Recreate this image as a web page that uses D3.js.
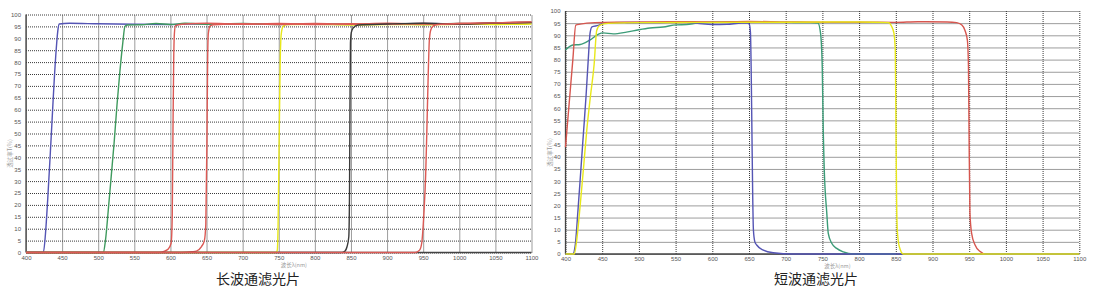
<!DOCTYPE html>
<html>
<head>
<meta charset="utf-8">
<script src="https://cdn.jsdelivr.net/npm/d3@7"></script>
<style>
  body { margin: 0; background: #fff; }
  svg { display: block; }
  .tick text { font-family: "Liberation Sans", Arial, sans-serif; fill: #555; }
  .domain { display: none; }
</style>
</head>
<body>
<svg id="chart" width="1099" height="288"></svg>
<script>
// ---- shared axis values ----
const xTicks = d3.range(400, 1101, 50);
const yTicks = d3.range(0, 101, 5);

// ---- long-pass filters (left panel): [wavelength nm, transmission %] ----
const lpBlue = [[400,0],[424,0],[427,8],[430,22],[433,38],[436,55],[439,72],[442,86],[444,93],[446,96],[460,96.3],[500,96.1],[550,95.9],[600,95.8],[650,96.1],[700,95.9],[750,96.1],[800,95.9],[850,95.8],[900,96],[950,96.2],[1000,96.1],[1050,96.3],[1100,96.5]];
const lpGreen = [[400,0],[507,0],[510,5],[514,18],[518,32],[522,46],[526,62],[530,76],[534,88],[537,95],[540,95.6],[560,95.7],[580,96.2],[600,95.8],[620,96.3],[650,95.9],[700,96.2],[750,95.8],[800,96.1],[850,95.9],[900,96.1],[950,95.8],[1000,96.2],[1050,96],[1100,96.3]];
const lpYellow = [[400,0],[746,0],[748,1],[749,10],[750.5,45],[752,80],[753.5,92],[756,95],[761,95.8],[800,95.9],[850,95.6],[900,95.8],[950,95.7],[1000,95.9],[1050,95.8],[1100,96]];
const lpRed1 = [[400,0],[584,0],[592,0.6],[597,1.5],[601,4],[602.5,15],[603.5,50],[604.5,80],[605.5,92],[607,95.3],[620,96],[650,96.3],[700,95.9],[750,96.2],[800,95.8],[850,96.1],[900,95.9],[950,96.2],[1000,96],[1050,96.4],[1100,96.6]];
const lpRed2 = [[400,0],[615,0],[630,0.3],[636,0.6],[643,2.5],[647,5],[649,12],[650.5,45],[651.5,80],[652.5,92],[655,95.2],[660,95.7],[700,96.1],[750,95.8],[800,96.2],[850,95.9],[900,96.3],[950,96],[1000,96.2],[1050,96.5],[1100,96.8]];
const lpBlack = [[400,0],[835,0],[841,0.4],[844.5,2.4],[847,6.6],[848,25],[848.6,60],[849.3,88],[850.5,92.5],[853,94.3],[860,95.6],[900,96],[950,96.3],[1000,96],[1050,96.4],[1100,96.7]];
const lpRed3 = [[400,0],[939,0],[945,1],[948,4],[951,16.5],[953.5,33],[955,50],[957,75],[958.5,89],[960.5,93.5],[964,95.2],[970,95.8],[1000,96.2],[1050,96.5],[1100,96.9]];

// ---- short-pass filters (right panel) ----
const spGreen = [[400,84],[410,86],[420,86.2],[433,88],[445,90.5],[451,91],[465,90.6],[483,91.3],[500,92.3],[515,93],[533,93.4],[551,94.3],[565,94.4],[579,95],[600,95.4],[650,95.5],[700,95.3],[733,95.2],[744,95],[747.5,90.8],[749.8,77],[751.2,50],[752.5,35],[756,16.7],[758,8.5],[762.7,4.4],[769.5,2.3],[778.5,0.9],[792,0],[850,0]];
const spBlue = [[400,0],[410,0],[413,3],[417,18],[421,35],[424.5,50],[428,65],[431,80],[433.5,91],[436,93.5],[445,94.1],[452,95],[480,95.3],[520,95.2],[560,95.4],[580,94.9],[600,94.4],[620,94.5],[640,95],[648,95],[650.5,94.5],[652,91],[653,75],[654,50],[655,25],[656,10],[658,5],[660.5,3.7],[669.5,1.6],[683,0.5],[710,0],[1100,0]];
const spRed = [[400,44],[405,62],[410,80],[414,94.2],[420,94.6],[440,95.2],[480,95.4],[550,95.6],[600,95.5],[650,95.7],[700,95.5],[750,95.4],[800,95.4],[850,95.3],[880,95.6],[920,95.5],[933,95.2],[940,94.2],[944,92.2],[947.5,88],[949,77],[949.8,50],[951,17],[953.3,8.5],[958,3.7],[965,1],[970,0]];
const spYellow = [[400,0],[412,0],[415,5],[420,20],[425,37],[429,51],[434,65],[439,78],[442.5,92],[447,94.2],[458,94.9],[500,95.2],[600,95.3],[700,95.4],[800,95.5],[840,95.2],[844.4,93.6],[847.5,90.8],[849.3,84],[850.3,50],[851,25],[852,10],[854.8,3],[860.3,0],[1100,0]];

const panels = [
  {
    x0: 26, x1: 531.5, y0: 252.5, y1: 14.5,
    caption: "长波通滤光片", capX: 258,
    series: [
      { data: lpBlue, color: "#5454b4" },
      { data: lpGreen, color: "#3f9a5e" },
      { data: lpYellow, color: "#e8e81a" },
      { data: lpRed1, color: "#dc5a55" },
      { data: lpRed2, color: "#dc5a55" },
      { data: lpBlack, color: "#3a3a3a" },
      { data: lpRed3, color: "#dc5a55" }
    ]
  },
  {
    x0: 565.5, x1: 1079.3, y0: 254, y1: 11,
    caption: "短波通滤光片", capX: 816,
    series: [
      { data: spGreen, color: "#3c9c78" },
      { data: spBlue, color: "#5454b4" },
      { data: spRed, color: "#d6564f" },
      { data: spYellow, color: "#e8e81a" }
    ]
  }
];

const svg = d3.select("#chart");

panels.forEach(p => {
  const x = d3.scaleLinear().domain([400, 1100]).range([p.x0, p.x1]);
  const y = d3.scaleLinear().domain([0, 100]).range([p.y0, p.y1]);
  const g = svg.append("g");

  // horizontal grid + y tick labels
  const yAxis = g.append("g")
    .attr("transform", `translate(${p.x0},0)`)
    .call(d3.axisLeft(y).tickValues(yTicks).tickFormat(d3.format("d"))
      .tickSize(-(p.x1 - p.x0)).tickPadding(5));
  yAxis.selectAll("line")
    .attr("stroke", "#3a3a3a").attr("stroke-width", 1).attr("stroke-dasharray", "1,1");
  yAxis.selectAll("text").attr("font-size", "6px");

  // vertical grid + x tick labels
  const xAxis = g.append("g")
    .attr("transform", `translate(0,${p.y0})`)
    .call(d3.axisBottom(x).tickValues(xTicks).tickFormat(d3.format("d"))
      .tickSize(-(p.y0 - p.y1)).tickPadding(3));
  xAxis.selectAll("line")
    .attr("stroke", "#3a3a3a").attr("stroke-width", 1).attr("stroke-dasharray", "1,1");
  xAxis.selectAll("text").attr("font-size", "6px");

  // solid left and bottom axis lines
  g.append("line").attr("x1", p.x0).attr("x2", p.x0).attr("y1", p.y1).attr("y2", p.y0)
    .attr("stroke", "#444").attr("stroke-width", 1.3);
  g.append("line").attr("x1", p.x0).attr("x2", p.x1).attr("y1", p.y0).attr("y2", p.y0)
    .attr("stroke", "#444").attr("stroke-width", 1.3);

  // curves
  const line = d3.line()
    .x(d => x(d[0]))
    .y(d => y(d[1]))
    .curve(d3.curveMonotoneX);
  p.series.forEach(s => {
    g.append("path")
      .attr("d", line(s.data))
      .attr("fill", "none")
      .attr("stroke", s.color)
      .attr("stroke-width", 1.4);
  });

  // axis titles (tiny, light)
  g.append("text")
    .attr("transform", `translate(${p.x0 - 14},${(p.y0 + p.y1) / 2 + 20}) rotate(-90)`)
    .attr("text-anchor", "middle")
    .attr("font-family", "Noto Sans CJK SC, sans-serif")
    .attr("font-size", "5.5px")
    .attr("fill", "#999")
    .text("透过率T(%)");
  g.append("text")
    .attr("x", (p.x0 + p.x1) / 2 + 15)
    .attr("y", p.y0 + 14)
    .attr("text-anchor", "middle")
    .attr("font-family", "Noto Sans CJK SC, sans-serif")
    .attr("font-size", "5.5px")
    .attr("fill", "#999")
    .text("波长λ(nm)");

  // caption
  svg.append("text")
    .attr("x", p.capX)
    .attr("y", 284)
    .attr("text-anchor", "middle")
    .attr("font-family", "Noto Sans CJK SC, sans-serif")
    .attr("font-size", "14px")
    .attr("fill", "#222")
    .text(p.caption);
});
</script>
</body>
</html>
